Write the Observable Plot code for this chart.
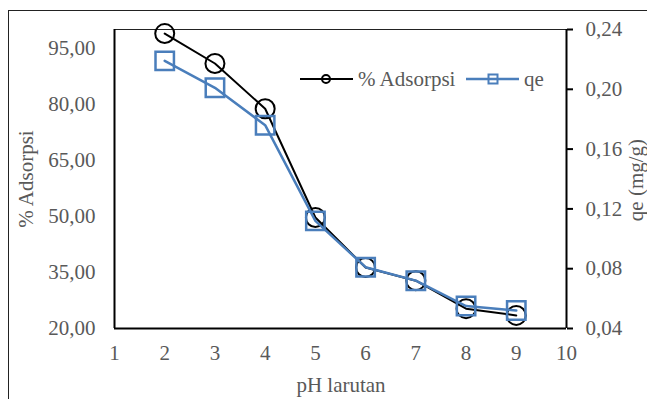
<!DOCTYPE html>
<html><head><meta charset="utf-8">
<script src="https://cdn.jsdelivr.net/npm/d3@7"></script>
<script src="https://cdn.jsdelivr.net/npm/@observablehq/plot@0.6"></script>
<style>body{margin:0;background:#fff} svg text{font-family:"Liberation Serif","Times New Roman",serif !important;}</style>
</head><body><div id="chart"></div>
<script>
const ph = [2, 3, 4, 5, 6, 7, 8, 9];
const adsorpsi = [98.9, 90.9, 78.8, 49.7, 36.3, 32.8, 25.3, 23.5];
const qe = [0.219, 0.201, 0.176, 0.112, 0.081, 0.072, 0.055, 0.052];
const xTicks = [1, 2, 3, 4, 5, 6, 7, 8, 9, 10];
const adsTicks = [20, 35, 50, 65, 80, 95];
const qeTicks = [0.04, 0.08, 0.12, 0.16, 0.20, 0.24];
const adsDomain = [20, 100];
const qeDomain = [0.04, 0.24];

const toY = v => adsDomain[0] + (v - qeDomain[0]) / (qeDomain[1] - qeDomain[0]) * (adsDomain[1] - adsDomain[0]);
const fromY = v => qeDomain[0] + (v - adsDomain[0]) / (adsDomain[1] - adsDomain[0]) * (qeDomain[1] - qeDomain[0]);
const fmt = d => d3.format(".2f")(d).replace(".", ",");

const dataA = ph.map((x, i) => ({x, y: adsorpsi[i]}));
const dataQ = ph.map((x, i) => ({x, y: toY(qe[i])}));
const blue = "#4a7ebb";
const gray = "#595959";
const FS = 21;

const chart = Plot.plot({
  width: 647, height: 399,
  marginLeft: 114, marginRight: 81, marginTop: 29, marginBottom: 71,
  x: {domain: [1, 10]},
  y: {domain: adsDomain},
  style: {fontFamily: "'Liberation Serif', serif", fontSize: FS + "px", background: "white", color: "black"},
  marks: [
    Plot.axisX({ticks: xTicks, tickSize: 0, tickPadding: 17, label: null, color: gray}),
    Plot.axisY({ticks: adsTicks, tickSize: 0, tickPadding: 19, tickFormat: fmt, label: null, color: gray}),
    Plot.axisY({anchor: "right", ticks: qeTicks.map(toY), tickSize: 6, tickFormat: () => "", label: null, color: "black", strokeWidth: 2}),
    Plot.axisY({anchor: "right", ticks: qeTicks.map(toY), tickSize: 0, tickPadding: 19, tickFormat: v => fmt(fromY(v)), label: null, color: gray}),
    Plot.ruleY([adsDomain[1]], {stroke: "#222", strokeWidth: 1}),
    Plot.ruleY([adsDomain[0]], {stroke: "black", strokeWidth: 2}),
    Plot.ruleX([1], {stroke: "black", strokeWidth: 2}),
    Plot.ruleX([10], {stroke: "black", strokeWidth: 2}),
    Plot.line(dataA, {x: "x", y: "y", stroke: "black", strokeWidth: 2}),
    Plot.dot(dataA, {x: "x", y: "y", r: 9.5, stroke: "black", strokeWidth: 2, fill: "none"}),
    Plot.line(dataQ, {x: "x", y: "y", stroke: blue, strokeWidth: 2.5}),
    Plot.dot(dataQ, {x: "x", y: "y", symbol: "square", r: 10.4, stroke: blue, strokeWidth: 2.5, fill: "none"})
  ]
});
document.getElementById("chart").appendChild(chart);

const svg = d3.select(chart);
svg.insert("rect", "g").attr("x", 8.5).attr("y", 10.5).attr("width", 1000).attr("height", 1000)
  .attr("fill", "none").attr("stroke", "#222").attr("stroke-width", 1);

const txt = (x, y, s, opts = {}) => {
  const t = svg.append("text").attr("x", x).attr("y", y).text(s)
    .attr("font-size", FS).attr("fill", gray)
    .attr("text-anchor", opts.anchor || "start");
  if (opts.rotate) t.attr("transform", `rotate(-90 ${x} ${y})`);
  return t;
};
// axis titles
txt(33, 179, "% Adsorpsi", {anchor: "middle", rotate: true});
txt(643, 180, "qe (mg/g)", {anchor: "middle", rotate: true});
txt(341, 392, "pH larutan", {anchor: "middle"});

// legend
const ly = 79;
svg.append("line").attr("x1", 300).attr("x2", 353).attr("y1", ly).attr("y2", ly).attr("stroke", "black").attr("stroke-width", 2);
svg.append("circle").attr("cx", 326).attr("cy", ly).attr("r", 4).attr("fill", "none").attr("stroke", "black").attr("stroke-width", 2);
txt(358, ly + 7, "% Adsorpsi");
svg.append("line").attr("x1", 466).attr("x2", 519).attr("y1", ly).attr("y2", ly).attr("stroke", blue).attr("stroke-width", 2.5);
svg.append("rect").attr("x", 488.5).attr("y", ly - 4.5).attr("width", 9).attr("height", 9).attr("fill", "none").attr("stroke", blue).attr("stroke-width", 2);
txt(524, ly + 7, "qe");
</script>
</body></html>
